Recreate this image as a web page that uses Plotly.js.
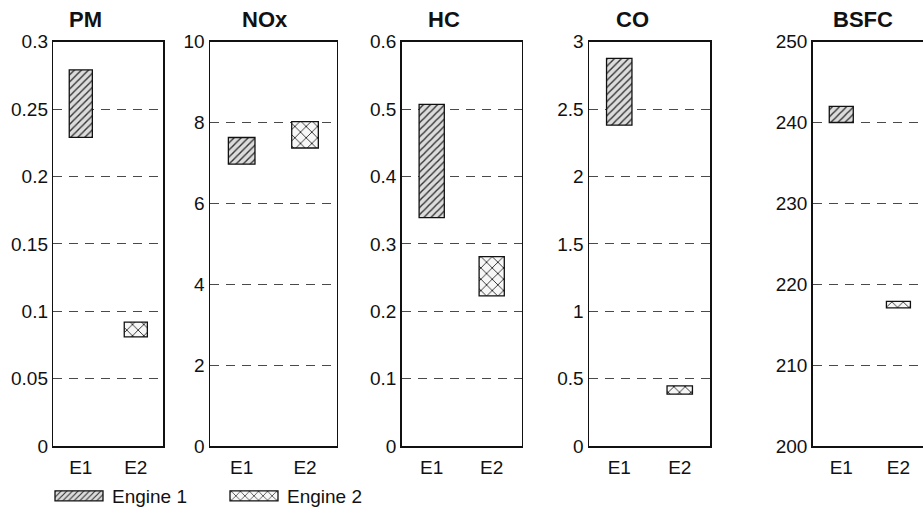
<!DOCTYPE html>
<html><head><meta charset="utf-8">
<script src="https://cdn.plot.ly/plotly-3.0.1.min.js"></script>
<style>html,body{margin:0;padding:0;overflow:hidden;background:#fff}#chart{width:940px;height:515px}</style>
</head><body><div id="chart"></div>
<script>
// ---- data ----
const panels = ['PM', 'NOx', 'HC', 'CO', 'BSFC'];
const categories = ['E1', 'E2'];
const seriesNames = ['Engine 1', 'Engine 2'];
const engine1Low  = [0.229, 6.97, 0.339, 2.38, 240.0];
const engine1High = [0.279, 7.63, 0.507, 2.875, 242.0];
const engine2Low  = [0.081, 7.37, 0.223, 0.385, 217.1];
const engine2High = [0.092, 8.02, 0.281, 0.447, 217.9];
const yMin = [0, 0, 0, 0, 200];
const yMax = [0.3, 10, 0.6, 3, 250];
const yStep = [0.05, 2, 0.1, 0.5, 10];

// ---- layout helpers ----
const W = 940, H = 515;
const xPix = [[53.3, 163.3], [210, 336.7], [401.7, 521.7], [589, 710], [812.7, 927]];
const titleX = [85, 265, 444, 632, 863];
const yDom = [(H - 447) / H, (H - 41.7) / H];
const FONT = 'Liberation Sans, Arial, Helvetica, sans-serif';

const pat1 = {shape: '/', size: 5, solidity: 0.28, fgcolor: '#333', bgcolor: '#dcdcdc', fillmode: 'replace'};
const pat2 = {shape: 'x', size: 8, solidity: 0.2, fgcolor: '#1a1a1a', bgcolor: '#f7f7f7', fillmode: 'replace'};

const traces = [];
const layout = {
  width: W, height: H,
  margin: {l: 0, r: 0, t: 0, b: 0},
  paper_bgcolor: '#fff', plot_bgcolor: '#fff',
  barmode: 'overlay',
  showlegend: true,
  font: {family: FONT, size: 19, color: '#111'},
  legend: {orientation: 'h', x: 46 / W, xanchor: 'left', y: (H - 497) / H, yanchor: 'middle',
           font: {size: 19, family: FONT, color: '#111'}, itemwidth: 56,
           entrywidth: 104, entrywidthmode: 'pixels', bgcolor: 'rgba(0,0,0,0)', traceorder: 'normal'},
  annotations: []
};

panels.forEach((name, i) => {
  const n = i + 1;
  const xa = 'x' + (n === 1 ? '' : n), ya = 'y' + (n === 1 ? '' : n);
  traces.push({
    type: 'bar', name: seriesNames[0], legendgroup: 'e1', showlegend: i === 0,
    x: [categories[0]], base: [engine1Low[i]], y: [engine1High[i] - engine1Low[i]],
    width: 0.42, xaxis: xa, yaxis: ya, hoverinfo: 'skip',
    marker: {color: '#dcdcdc', pattern: pat1, line: {color: '#111', width: 1.3}}
  });
  traces.push({
    type: 'bar', name: seriesNames[1], legendgroup: 'e2', showlegend: i === 0,
    x: [categories[1]], base: [engine2Low[i]], y: [engine2High[i] - engine2Low[i]],
    width: 0.42, xaxis: xa, yaxis: ya, hoverinfo: 'skip',
    marker: {color: '#f7f7f7', pattern: pat2, line: {color: '#111', width: 1.3}}
  });
  const xKey = 'xaxis' + (n === 1 ? '' : n), yKey = 'yaxis' + (n === 1 ? '' : n);
  layout[xKey] = {
    domain: [xPix[i][0] / W, xPix[i][1] / W], anchor: ya,
    type: 'category', categoryorder: 'array', categoryarray: categories,
    range: [-0.5, 1.5], fixedrange: true,
    showline: true, mirror: true, linecolor: '#111', linewidth: 1.5,
    showgrid: false, zeroline: false, ticks: '', ticklabelstandoff: 4,
    tickfont: {size: 19, family: FONT, color: '#111'}
  };
  layout[yKey] = {
    domain: yDom, anchor: xa, range: [yMin[i], yMax[i]], dtick: yStep[i], tick0: yMin[i],
    fixedrange: true,
    showline: true, mirror: true, linecolor: '#111', linewidth: 1.5,
    showgrid: true, gridcolor: '#4a4a4a', gridwidth: 1, griddash: '9px,7px',
    zeroline: false, ticks: '', ticklabelstandoff: 0,
    tickfont: {size: 19, family: FONT, color: '#111'}
  };
  layout.annotations.push({
    text: '<b>' + name + '</b>', xref: 'paper', yref: 'paper',
    x: titleX[i] / W, y: (H - 20) / H, xanchor: 'center', yanchor: 'middle',
    showarrow: false, font: {size: 22, family: FONT, color: '#111'}
  });
});

Plotly.newPlot('chart', traces, layout, {staticPlot: true, displayModeBar: false}).then(gd => {
  gd.querySelectorAll('.legend .legendpoints path').forEach(p => {
    p.setAttribute('d', 'M-24,5H24V-5H-24Z');
  });
});
</script></body></html>
